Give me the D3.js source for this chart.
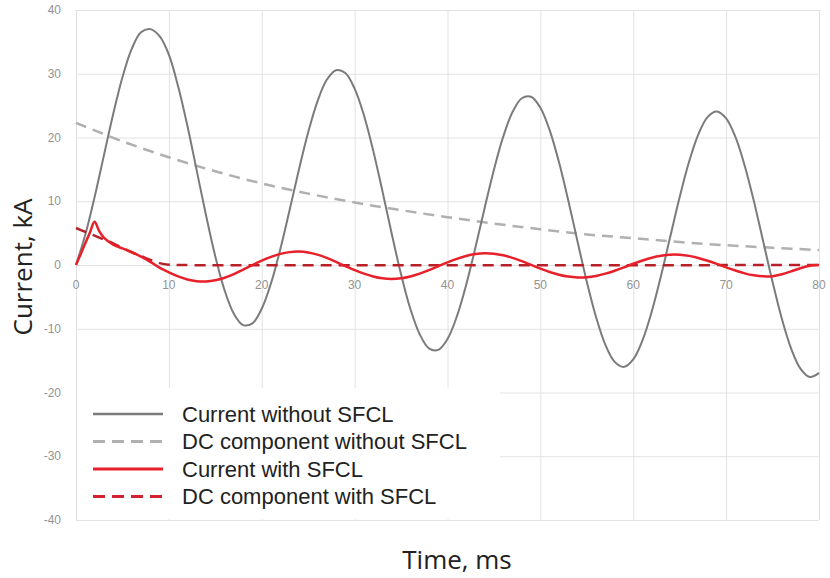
<html>
<head>
<meta charset="utf-8">
<script src="https://d3js.org/d3.v7.min.js"></script>
<style>
  body { margin: 0; background: #fff; }
  .grid line { stroke: #e2e2e2; stroke-width: 1; }
  .tick-label { font-family: "Liberation Sans", Arial, sans-serif; font-size: 12px; fill: #939393; }
  .axis-title { font-family: "Open Sans", sans-serif; font-size: 26px; fill: #222; }
  .legend-text { font-family: "Liberation Sans", Arial, sans-serif; font-size: 22px; fill: #222; }
</style>
</head>
<body>
<svg width="830" height="578"></svg>
<script>
// time axis (ms) for the sampled curves
var timeMs = [0,1,2,3,4,5,6,7,8,9,10,11,12,13,14,15,16,17,18,19,20,
  21,22,23,24,25,26,27,28,29,30,31,32,33,34,35,36,37,38,39,40,
  41,42,43,44,45,46,47,48,49,50,51,52,53,54,55,56,57,58,59,60,
  61,62,63,64,65,66,67,68,69,70,71,72,73,74,75,76,77,78,79,80];

// Current without SFCL (kA), every 1 ms
var currentWithout = [0,4.75,10.65,17.16,23.64,29.45,33.9,36.5,37.0,35.9,33.0,28.0,21.8,14.8,7.8,1.34,-3.97,-7.66,-9.43,-9.15,
  -6.86,-2.86,2.49,8.62,14.94,20.82,25.67,29.05,30.56,30.11,27.66,23.5,17.94,11.55,4.86,-1.46,-6.87,-10.84,-13.07,-13.31,
  -11.61,-8.11,-3.17,2.69,8.95,14.96,20.13,23.99,26.16,26.4,24.67,21.15,16.14,10.15,3.7,-2.63,-8.2,-12.52,-15.2,-15.98,
  -14.8,-11.79,-7.27,-1.64,4.54,10.66,16.15,20.46,23.2,24.07,22.99,20.08,15.58,9.94,3.64,-2.66,-8.44,-13.11,-16.25,-17.57,-16.93];

// DC component without SFCL (kA)
var dcWithoutTime = [0,5,10,15,20,25,30,35,40,45,50,55,60,65,70,75,80];
var dcWithout = [22.3,19.4,16.9,14.7,12.8,11.2,9.8,8.6,7.5,6.5,5.6,4.8,4.2,3.6,3.1,2.7,2.35];

// Current with SFCL (kA)
var withTime = [0,0.5,1,1.5,2,2.5,3,4,5,6,7,8,9,10,11,12,13,14,15,16,17,18,19,20,
  21,22,23,24,25,26,27,28,29,30,31,32,33,34,35,36,37,38,39,40,
  41,42,43,44,45,46,47,48,49,50,51,52,53,54,55,56,57,58,59,60,
  61,62,63,64,65,66,67,68,69,70,71,72,73,74,75,76,77,78,79,80];
var currentWith = [0,1.7,3.4,5.1,6.8,5.3,4.3,3.2,2.6,2.0,1.3,0.5,-0.42,-1.15,-1.79,-2.27,-2.54,-2.58,-2.39,-2.0,-1.43,-0.74,0,
  0.68,1.28,1.75,2.02,2.1,1.96,1.62,1.11,0.5,-0.18,
  -0.8,-1.36,-1.8,-2.09,-2.19,-2.09,-1.8,-1.36,-0.81,-0.2,0.41,0.97,1.42,1.71,1.84,1.76,1.52,1.12,0.6,0.02,
  -0.56,-1.09,-1.52,-1.82,-1.96,-1.92,-1.71,-1.36,-0.9,-0.36,0.2,0.71,1.15,1.45,1.62,1.6,1.43,1.1,0.67,0.17,
  -0.37,-0.87,-1.31,-1.62,-1.78,-1.75,-1.45,-1.0,-0.5,-0.12,0];

// DC component with SFCL (kA)
var dcWithTime = [0,1,2,3,4,5,6,7,8,9,10,11,80];
var dcWith = [5.8,5.2,4.6,4.0,3.4,2.7,2.0,1.4,0.8,0.3,0.05,0,0];

var xTicks = [0,10,20,30,40,50,60,70,80];
var yTicks = [-40,-30,-20,-10,0,10,20,30,40];
var legendLabels = ["Current without SFCL","DC component without SFCL","Current with SFCL","DC component with SFCL"];

var svg = d3.select("svg");

var x = d3.scaleLinear().domain([0, 80]).range([76, 819]);
var y = d3.scaleLinear().domain([-40, 40]).range([520, 10]);

// grid
var grid = svg.append("g").attr("class", "grid");
grid.selectAll(".v").data(xTicks).enter().append("line")
  .attr("x1", d => x(d) + 0.5).attr("x2", d => x(d) + 0.5)
  .attr("y1", y(40)).attr("y2", y(-40));
grid.selectAll(".h").data(yTicks).enter().append("line")
  .attr("x1", x(0)).attr("x2", x(80))
  .attr("y1", d => y(d) + 0.5).attr("y2", d => y(d) + 0.5);

// y tick labels
svg.append("g").selectAll("text").data(yTicks).enter().append("text")
  .attr("class", "tick-label")
  .attr("x", 61).attr("y", d => y(d)).attr("dy", "0.35em")
  .attr("text-anchor", "end")
  .text(d => d);

// x tick labels, sitting under the zero line
svg.append("g").selectAll("text").data(xTicks).enter().append("text")
  .attr("class", "tick-label")
  .attr("x", d => x(d)).attr("y", y(0) + 20).attr("dy", "0.35em")
  .attr("text-anchor", "middle")
  .text(d => d);

function pts(ts, vs) { return ts.map((t, i) => [t, vs[i]]); }
var line = d3.line().x(d => x(d[0])).y(d => y(d[1])).curve(d3.curveCatmullRom.alpha(0.5));

svg.append("path").datum(pts(dcWithoutTime, dcWithout))
  .attr("d", line).attr("fill", "none")
  .attr("stroke", "#b0b0b0").attr("stroke-width", 2.5).attr("stroke-dasharray", "11,7");

svg.append("path").datum(pts(timeMs, currentWithout))
  .attr("d", line).attr("fill", "none")
  .attr("stroke", "#7b7b7b").attr("stroke-width", 2);

svg.append("path").datum(pts(dcWithTime, dcWith))
  .attr("d", line).attr("fill", "none")
  .attr("stroke", "#b82028").attr("stroke-width", 2.5).attr("stroke-dasharray", "11,7");

svg.append("path").datum(pts(withTime, currentWith))
  .attr("d", line).attr("fill", "none")
  .attr("stroke", "#e8202a").attr("stroke-width", 2.5);

// legend box (white, no border)
var lg = svg.append("g");
lg.append("rect").attr("x", 77).attr("y", 388).attr("width", 423).attr("height", 131).attr("fill", "#fff");
var legendStyle = [
  {c: "#7b7b7b", w: 2.5, dash: null},
  {c: "#b0b0b0", w: 3, dash: "12,7"},
  {c: "#e8202a", w: 3, dash: null},
  {c: "#d42030", w: 3, dash: "12,7"}
];
legendLabels.forEach(function (lab, i) {
  var yy = 414 + i * 27.5;
  lg.append("line").attr("x1", 93).attr("x2", 163).attr("y1", yy).attr("y2", yy)
    .attr("stroke", legendStyle[i].c).attr("stroke-width", legendStyle[i].w)
    .attr("stroke-dasharray", legendStyle[i].dash);
  lg.append("text").attr("class", "legend-text").attr("x", 182).attr("y", yy).attr("dy", "0.35em").text(lab);
});

// axis titles
svg.append("text").attr("class", "axis-title")
  .attr("transform", "translate(32,267) rotate(-90)")
  .attr("text-anchor", "middle").text("Current, kA");
svg.append("text").attr("class", "axis-title")
  .attr("x", 457).attr("y", 569).attr("text-anchor", "middle").text("Time, ms");
</script>
</body>
</html>
